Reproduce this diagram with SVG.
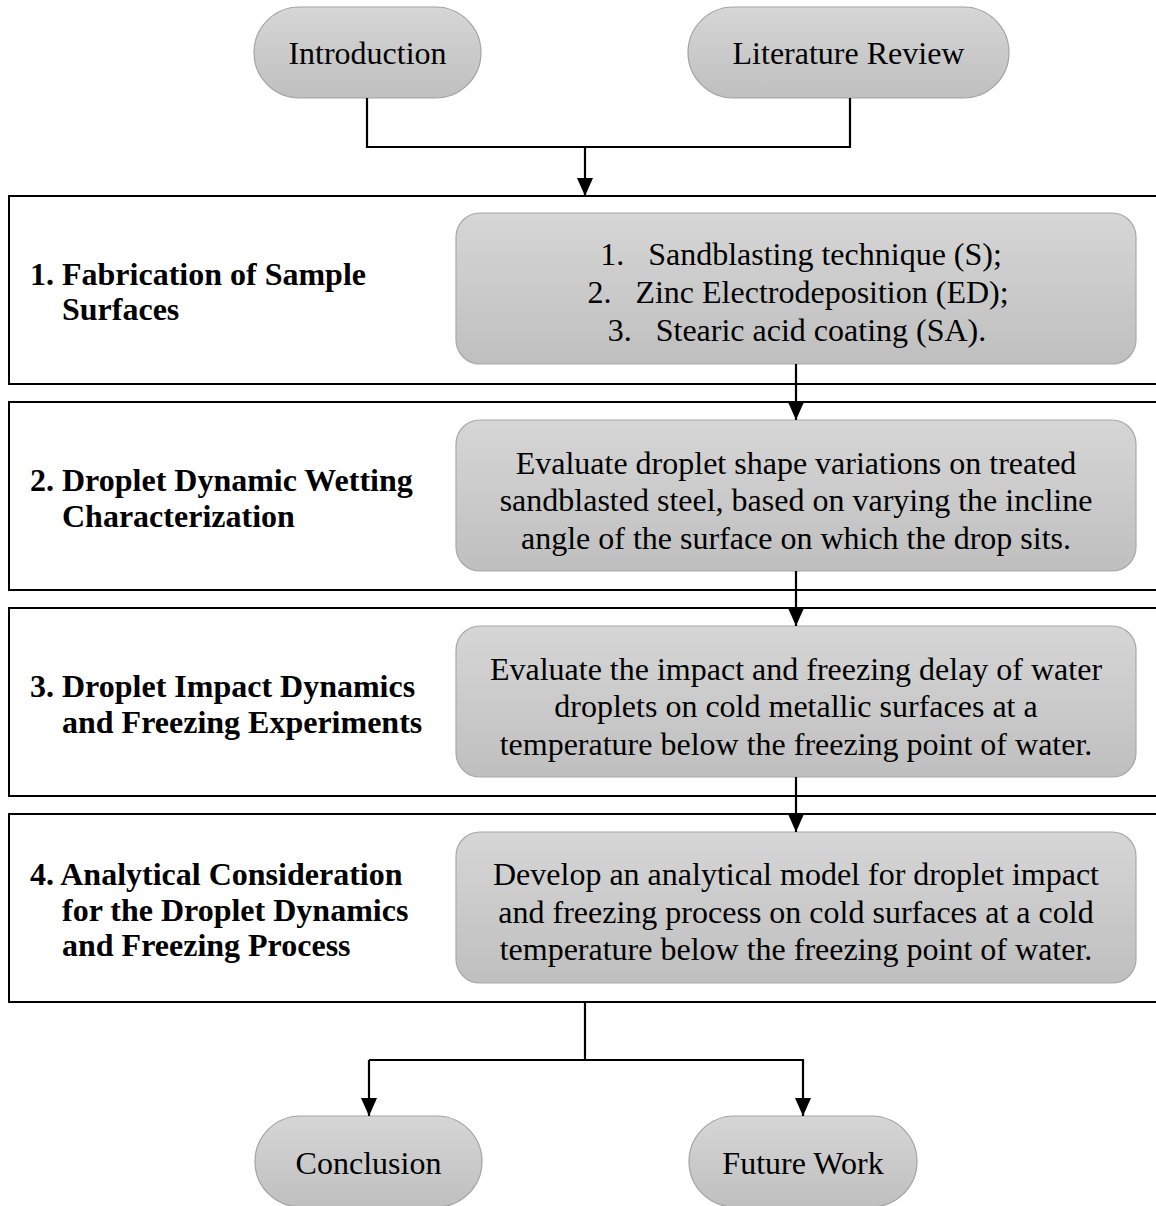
<svg xmlns="http://www.w3.org/2000/svg" width="1156" height="1206" viewBox="0 0 1156 1206">
<defs>
<linearGradient id="g" x1="0" y1="0" x2="0" y2="1">
<stop offset="0" stop-color="#d6d6d6"/>
<stop offset="1" stop-color="#bfbfbf"/>
</linearGradient>
<marker id="arr" viewBox="0 0 18 16" refX="18" refY="8" markerWidth="18" markerHeight="16" orient="auto" markerUnits="userSpaceOnUse">
<path d="M0,0 L18,8 L0,16 Z" fill="#000"/>
</marker>
</defs>
<style>
.pill{fill:url(#g);stroke:#a3a3a3;stroke-width:1.2}
.inner{fill:url(#g);stroke:#a8a8a8;stroke-width:1.2}
.outer{fill:#fff;stroke:#000;stroke-width:2}
.t{font-family:"Liberation Serif","Times New Roman",serif;font-size:32px;fill:#000}
.b{font-family:"Liberation Serif","Times New Roman",serif;font-size:32px;font-weight:bold;fill:#000}
.c{text-anchor:middle}
.ln{fill:none;stroke:#000;stroke-width:2.2}
</style>

<g id="sec1">
<rect class="outer" x="9" y="196" width="1160" height="188"/>
<text class="b" x="30" y="285">1. Fabrication of Sample</text>
<text class="b" x="62" y="320">Surfaces</text>
<rect class="inner" x="456" y="213" width="680" height="151" rx="24"/>
<text class="t c" x="801" y="265" xml:space="preserve">1.   Sandblasting technique (S);</text>
<text class="t c" x="798" y="303" xml:space="preserve">2.   Zinc Electrodeposition (ED);</text>
<text class="t c" x="797" y="341" xml:space="preserve">3.   Stearic acid coating (SA).</text>
</g>

<g id="sec2">
<rect class="outer" x="9" y="402" width="1160" height="188"/>
<text class="b" x="30" y="491">2. Droplet Dynamic Wetting</text>
<text class="b" x="62" y="527">Characterization</text>
<rect class="inner" x="456" y="420" width="680" height="151" rx="24"/>
<text class="t c" x="796" y="474">Evaluate droplet shape variations on treated</text>
<text class="t c" x="796" y="511">sandblasted steel, based on varying the incline</text>
<text class="t c" x="796" y="549">angle of the surface on which the drop sits.</text>
</g>

<g id="sec3">
<rect class="outer" x="9" y="608" width="1160" height="188"/>
<text class="b" x="30" y="697">3. Droplet Impact Dynamics</text>
<text class="b" x="62" y="733">and Freezing Experiments</text>
<rect class="inner" x="456" y="626" width="680" height="151" rx="24"/>
<text class="t c" x="796" y="680">Evaluate the impact and freezing delay of water</text>
<text class="t c" x="796" y="717">droplets on cold metallic surfaces at a</text>
<text class="t c" x="796" y="755">temperature below the freezing point of water.</text>
</g>

<g id="sec4">
<rect class="outer" x="9" y="814" width="1160" height="188"/>
<text class="b" x="30" y="885">4. Analytical Consideration</text>
<text class="b" x="62" y="921">for the Droplet Dynamics</text>
<text class="b" x="62" y="956">and Freezing Process</text>
<rect class="inner" x="456" y="832" width="680" height="151" rx="24"/>
<text class="t c" x="796" y="885">Develop an analytical model for droplet impact</text>
<text class="t c" x="796" y="923">and freezing process on cold surfaces at a cold</text>
<text class="t c" x="796" y="960">temperature below the freezing point of water.</text>
</g>

<g id="introduction">
<rect class="pill" x="254" y="7" width="227" height="91" rx="45.5"/>
<text class="t c" x="367.5" y="64">Introduction</text>
</g>
<g id="literature">
<rect class="pill" x="688" y="7" width="321" height="91" rx="45.5"/>
<text class="t c" x="848.5" y="64">Literature Review</text>
</g>
<g id="conclusion">
<rect class="pill" x="255" y="1116" width="227" height="91" rx="45.5"/>
<text class="t c" x="368.5" y="1174">Conclusion</text>
</g>
<g id="future">
<rect class="pill" x="689" y="1116" width="228" height="91" rx="45.5"/>
<text class="t c" x="803" y="1174">Future Work</text>
</g>

<g id="connectors">
<path class="ln" d="M367,98 V147 H850 V98"/>
<path class="ln" d="M585,147 V196" marker-end="url(#arr)"/>
<path class="ln" d="M796,364 V420" marker-end="url(#arr)"/>
<path class="ln" d="M796,571 V626" marker-end="url(#arr)"/>
<path class="ln" d="M796,777 V832" marker-end="url(#arr)"/>
<path class="ln" d="M585,1002 V1060"/>
<path class="ln" d="M369,1060 H803 V1116" marker-end="url(#arr)"/>
<path class="ln" d="M369,1060 V1116" marker-end="url(#arr)"/>
</g>
</svg>
